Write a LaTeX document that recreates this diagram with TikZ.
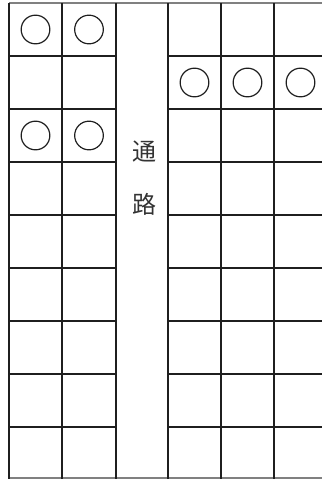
\documentclass[tikz,border=0pt]{standalone}
\usepackage{fontspec}
\newfontfamily\cjk{Noto Sans CJK JP}
\begin{document}
\begin{tikzpicture}[x=0.75pt,y=-0.75pt,
  grid/.style={draw=black!88,line width=2.2pt},
  edge/.style={draw=black!50,line width=0.8pt},
  seat/.style={circle,draw=black!88,line width=0.9pt,minimum size=21.5pt,inner sep=0pt},
  label/.style={font=\cjk\fontsize{18}{20}\selectfont,text=black!80,inner sep=0pt}]
\useasboundingbox (0,0) rectangle (322,479);
% outer gray top/bottom
\draw[edge] (9,3) -- (322,3);
\draw[edge] (9,478) -- (322,478);
% vertical lines
\foreach \x in {9,62,116,168,221,274} \draw[grid] (\x,3) -- (\x,479);
% horizontal lines
\foreach \y in {56,109,162,215,268,321,374,427} {
  \draw[grid] (9,\y) -- (116,\y);
  \draw[grid] (168,\y) -- (322,\y);
}
% seats
\node[seat] (a1) at (35.5,29.5) {};
\node[seat] (a2) at (89,29.5) {};
\node[seat] (b1) at (35.5,135.5) {};
\node[seat] (b2) at (89,135.5) {};
\node[seat] (c1) at (194.5,82.5) {};
\node[seat] (c2) at (247.5,82.5) {};
\node[seat] (c3) at (300.5,82.5) {};
% passage text
\node[label] (t1) at (144,152) {通};
\node[label] (t2) at (144,204) {路};
\end{tikzpicture}
\end{document}
